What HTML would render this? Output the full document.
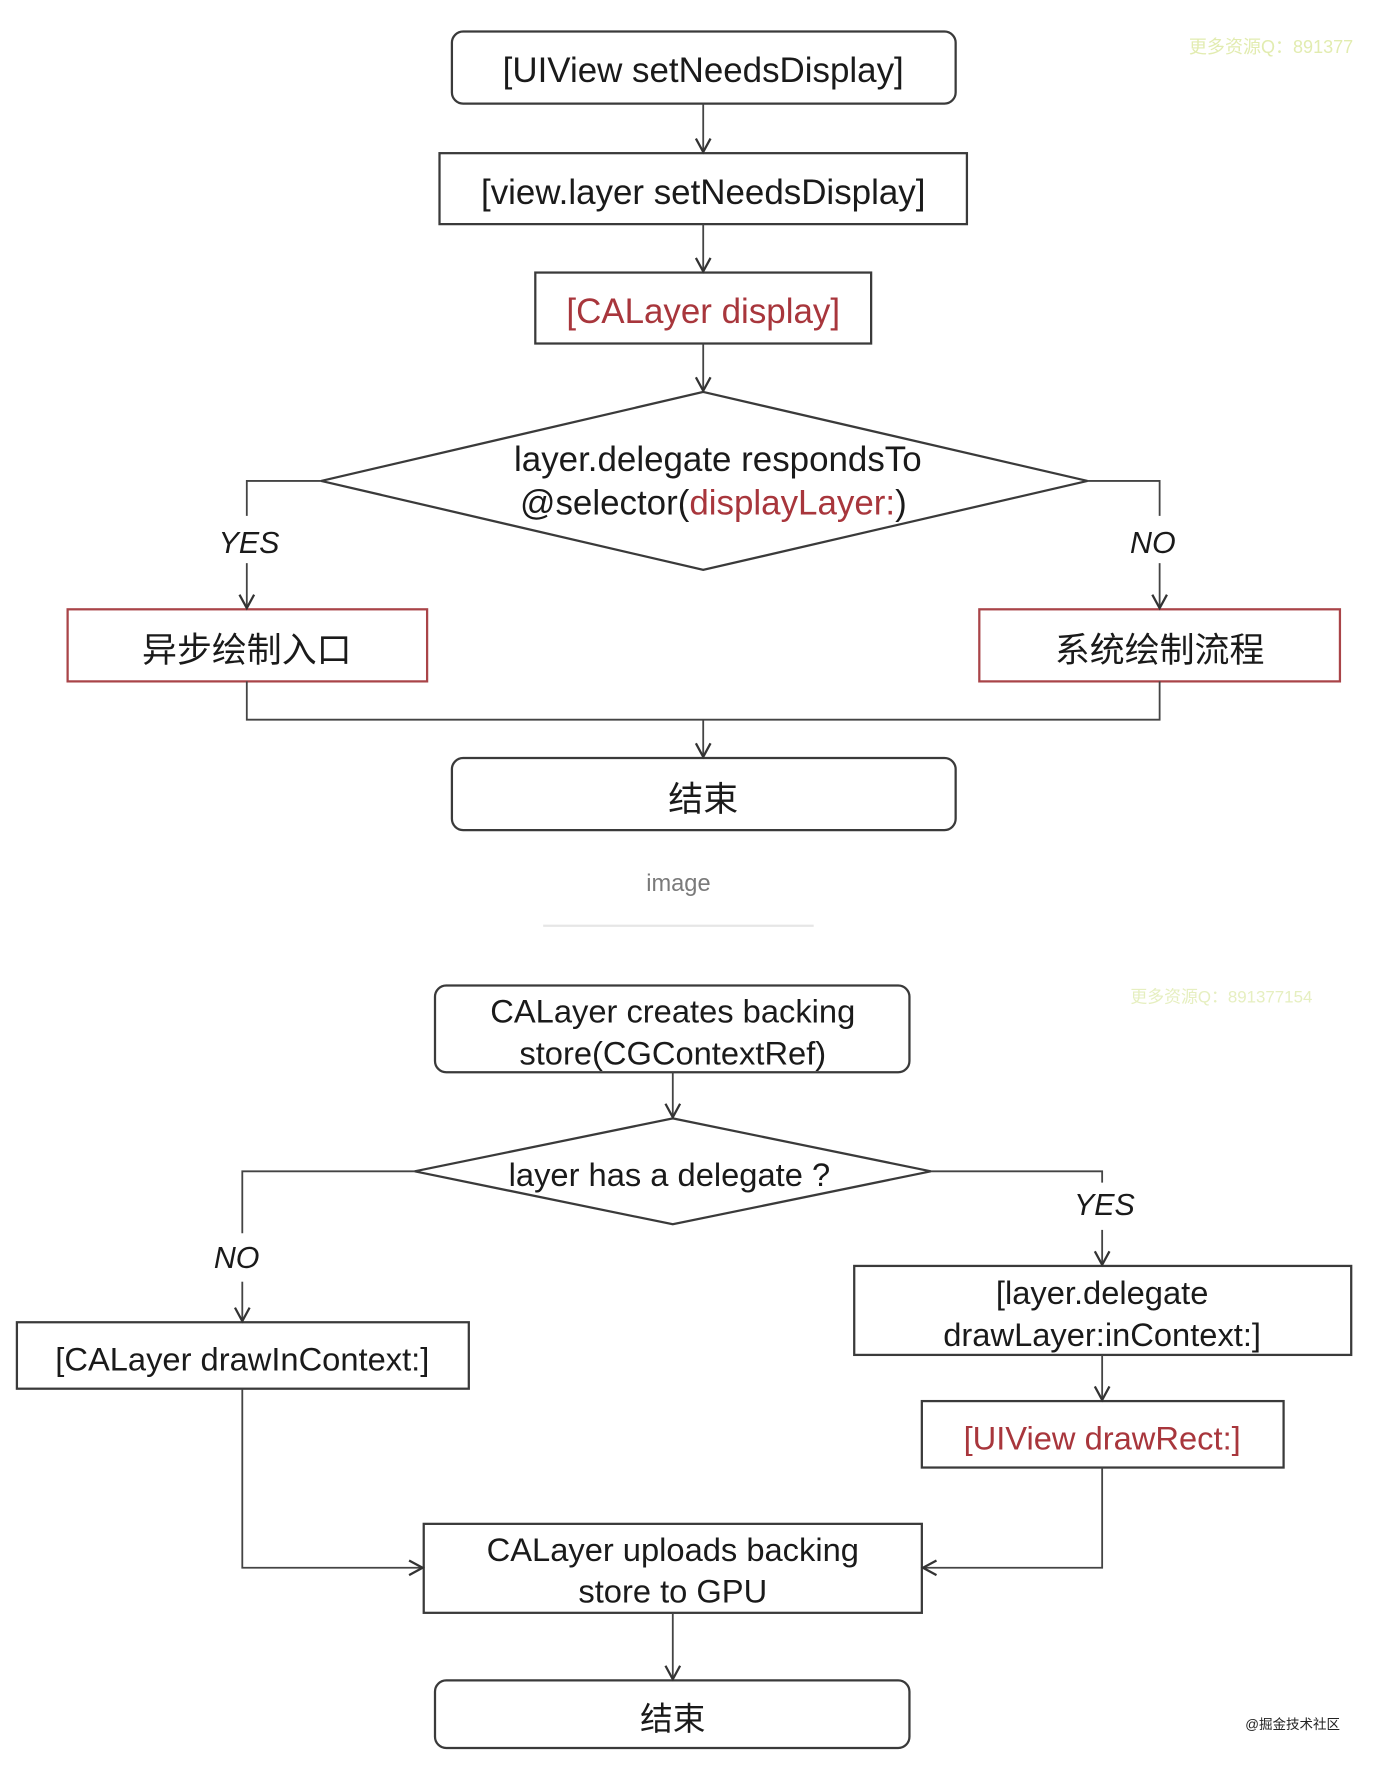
<!DOCTYPE html>
<html><head><meta charset="utf-8"><style>
html,body{margin:0;padding:0;background:#fff;}
svg{display:block;}
text{font-family:"Liberation Sans","Noto Sans CJK SC",sans-serif;fill:#1a1a1a;}
</style></head><body>
<svg width="1376" height="1766" viewBox="0 0 1221 1568" preserveAspectRatio="none" xmlns="http://www.w3.org/2000/svg">
<defs>
<marker id="a" markerWidth="16" markerHeight="16" refX="13" refY="8" orient="auto" markerUnits="userSpaceOnUse">
<path d="M1,1.5 L13,8 L1,14.5" fill="none" stroke="#333" stroke-width="2"/>
</marker>
</defs>
<g fill="none" stroke="#3a3a3a" stroke-width="2">
<rect x="401" y="28" width="447" height="64" rx="10" fill="#fff"/>
<rect x="390" y="136" width="468" height="63" fill="#fff"/>
<rect x="475" y="242" width="298" height="63" fill="#fff"/>
<polygon points="624,348 965,427 624,506 285,427" fill="#fff"/>
<rect x="60" y="541" width="319" height="64" stroke="#a94448"/>
<rect x="869" y="541" width="320" height="64" stroke="#a94448"/>
<rect x="401" y="673" width="447" height="64" rx="10"/>
<rect x="386" y="875" width="421" height="77" rx="10"/>
<polygon points="597,993 826,1040 597,1087 368,1040"/>
<rect x="15" y="1174" width="401" height="59"/>
<rect x="758" y="1124" width="441" height="79"/>
<rect x="818" y="1244" width="321" height="59"/>
<rect x="376" y="1353" width="442" height="79"/>
<rect x="386" y="1492" width="421" height="60" rx="10"/>
</g>
<g fill="none" stroke="#444" stroke-width="1.6">
<line x1="624" y1="92" x2="624" y2="135" marker-end="url(#a)"/>
<line x1="624" y1="199" x2="624" y2="241" marker-end="url(#a)"/>
<line x1="624" y1="305" x2="624" y2="347" marker-end="url(#a)"/>
<polyline points="285,427 219,427 219,458"/>
<line x1="219" y1="500" x2="219" y2="540" marker-end="url(#a)"/>
<polyline points="965,427 1029,427 1029,458"/>
<line x1="1029" y1="500" x2="1029" y2="540" marker-end="url(#a)"/>
<polyline points="219,605 219,639 1029,639 1029,605"/>
<line x1="624" y1="639" x2="624" y2="672" marker-end="url(#a)"/>
<line x1="597" y1="952" x2="597" y2="992" marker-end="url(#a)"/>
<polyline points="368,1040 215,1040 215,1095"/>
<line x1="215" y1="1138" x2="215" y2="1173" marker-end="url(#a)"/>
<polyline points="826,1040 978,1040 978,1050"/>
<line x1="978" y1="1092" x2="978" y2="1123" marker-end="url(#a)"/>
<line x1="978" y1="1203" x2="978" y2="1243" marker-end="url(#a)"/>
<polyline points="215,1233 215,1392 375,1392" marker-end="url(#a)"/>
<polyline points="978,1303 978,1392 819,1392" marker-end="url(#a)"/>
<line x1="597" y1="1432" x2="597" y2="1491" marker-end="url(#a)"/>
</g>
<line x1="482" y1="822" x2="722" y2="822" stroke="#e6e6e6" stroke-width="2"/>
<g font-size="31" text-anchor="middle">
<text x="624" y="73">[UIView setNeedsDisplay]</text>
<text x="624" y="181">[view.layer setNeedsDisplay]</text>
<text x="624" y="287" style="fill:#a8363c">[CALayer display]</text>
<text x="637" y="418">layer.delegate respondsTo</text>
<text x="633" y="457">@selector(<tspan style="fill:#a8363c">displayLayer:</tspan>)</text>
<text x="219" y="588">异步绘制入口</text>
<text x="1029" y="588">系统绘制流程</text>
<text x="624" y="720">结束</text>
</g>
<g font-size="27" font-style="italic" text-anchor="middle">
<text x="221" y="491">YES</text>
<text x="1023" y="491">NO</text>
<text x="210" y="1126">NO</text>
<text x="980" y="1079">YES</text>
</g>
<text x="602" y="791" font-size="21" text-anchor="middle" style="fill:#7a7a7a">image</text>
<g font-size="29" text-anchor="middle">
<text x="597" y="908">CALayer creates backing</text>
<text x="597" y="945">store(CGContextRef)</text>
<text x="594" y="1053">layer has a delegate ?</text>
<text x="215" y="1217">[CALayer drawInContext:]</text>
<text x="978" y="1158">[layer.delegate</text>
<text x="978" y="1195">drawLayer:inContext:]</text>
<text x="978" y="1287" style="fill:#a8363c">[UIView drawRect:]</text>
<text x="597" y="1386">CALayer uploads backing</text>
<text x="597" y="1423">store to GPU</text>
<text x="597" y="1536">结束</text>
</g>
<text x="1055" y="47" font-size="16" style="fill:#e2ecb0">更多资源Q：891377</text>
<text x="1003" y="890" font-size="15" style="fill:#e6efc0">更多资源Q：891377154</text>
<text x="1105" y="1535" font-size="12" style="fill:#222">@掘金技术社区</text>
</svg>
</body></html>
